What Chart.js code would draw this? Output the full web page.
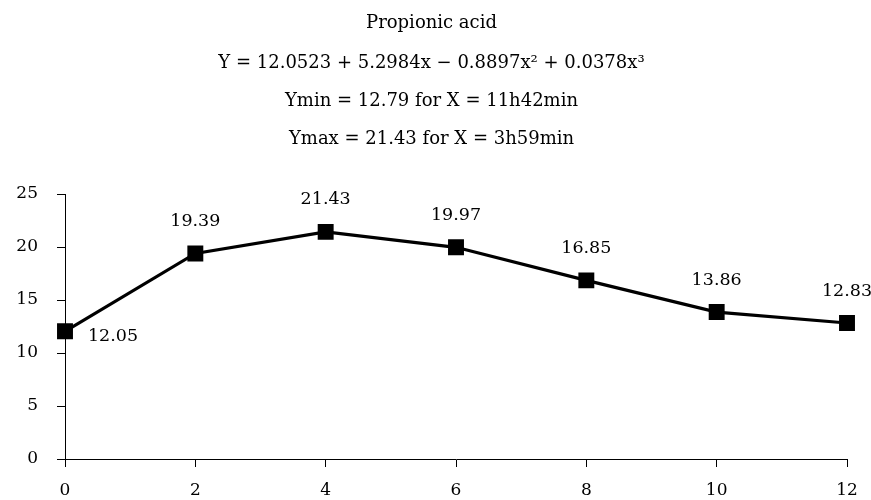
<!DOCTYPE html>
<html><head><meta charset="utf-8">
<script src="https://cdn.jsdelivr.net/npm/chart.js@4/dist/chart.umd.min.js"></script>
<style>html,body{margin:0;padding:0;background:#fff}#wrap{width:871px;height:500px}</style>
</head><body><div id="wrap"><canvas id="c"></canvas></div>
<script>
const hours = [0, 2, 4, 6, 8, 10, 12];
const propionic = [12.05, 19.39, 21.43, 19.97, 16.85, 13.86, 12.83];
const titleText = "Propionic acid";
const subtitleLines = [
  "Y = 12.0523 + 5.2984x \u2212 0.8897x\u00b2 + 0.0378x\u00b3",
  "Ymin = 12.79 for X = 11h42min",
  "Ymax = 21.43 for X = 3h59min"
];
const FONT = "'DejaVu Serif', 'Liberation Serif', serif";

const labelPlugin = {
  id: 'valLabels',
  afterDatasetsDraw(chart) {
    const ctx = chart.ctx;
    const meta = chart.getDatasetMeta(0);
    ctx.save();
    ctx.font = "17.5px " + FONT;
    ctx.fillStyle = "#000";
    ctx.textAlign = "center";
    ctx.textBaseline = "middle";
    meta.data.forEach((pt, i) => {
      const txt = propionic[i].toFixed(2);
      if (i === 0) ctx.fillText(txt, pt.x + 48, pt.y + 5);
      else ctx.fillText(txt, pt.x, pt.y - 32);
    });
    ctx.restore();
  }
};

new Chart(document.getElementById('c'), {
  type: 'line',
  data: {
    datasets: [{
      data: hours.map((h, i) => ({x: h, y: propionic[i]})),
      borderColor: '#000',
      backgroundColor: '#000',
      borderWidth: 3.2,
      pointStyle: 'rect',
      pointRadius: 9,
      pointHoverRadius: 9,
      tension: 0,
      clip: false
    }]
  },
  options: {
    responsive: true,
    maintainAspectRatio: false,
    animation: false,
    layout: { padding: { left: 16, right: 24, top: 0, bottom: 0 } },
    plugins: {
      legend: { display: false },
      tooltip: { enabled: false },
      title: {
        display: true, text: titleText, color: '#000',
        font: { family: FONT, size: 18, weight: 'normal', lineHeight: 1.2 },
        padding: { top: 13, bottom: 10 }
      },
      subtitle: {
        display: true, text: subtitleLines, color: '#000',
        font: { family: FONT, size: 18, weight: 'normal', lineHeight: 2.1 },
        padding: { top: 0, bottom: 36 }
      }
    },
    scales: {
      x: {
        type: 'linear', min: 0, max: 12,
        ticks: { stepSize: 2, color: '#000', font: { family: FONT, size: 17 }, padding: 13 },
        grid: { drawOnChartArea: false, drawTicks: true, tickLength: 8, color: '#000' },
        border: { color: '#000', width: 1 },
        afterFit(scale) { scale.height = 41; }
      },
      y: {
        min: 0, max: 25,
        ticks: { stepSize: 5, color: '#000', font: { family: FONT, size: 17 }, padding: 19 },
        grid: { drawOnChartArea: false, drawTicks: true, tickLength: 8, color: '#000' },
        border: { color: '#000', width: 1 },
        afterFit(scale) { scale.width = 49; }
      }
    }
  },
  plugins: [labelPlugin]
});
</script></body></html>
